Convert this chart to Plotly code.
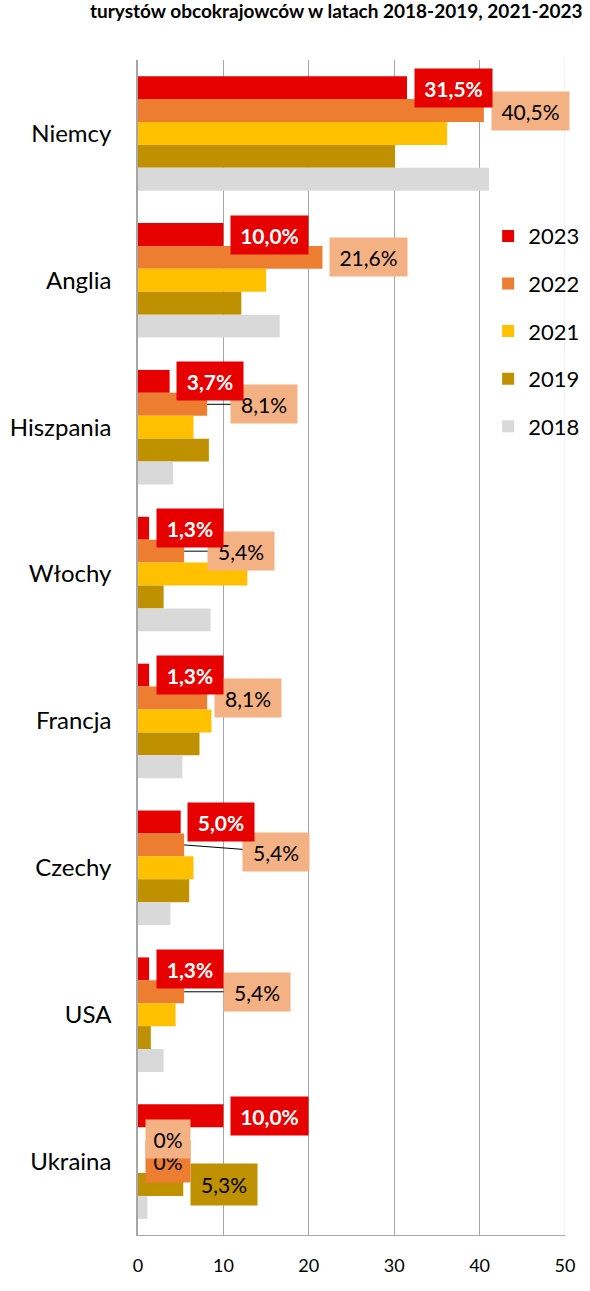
import plotly.graph_objects as go

# ---------------- data ----------------
categories = ["Niemcy", "Anglia", "Hiszpania", "Włochy", "Francja", "Czechy", "USA", "Ukraina"]
years = ["2023", "2022", "2021", "2019", "2018"]
v2023 = [31.5, 10.0, 3.7, 1.3, 1.3, 5.0, 1.3, 10.0]
v2022 = [40.5, 21.6, 8.1, 5.4, 8.1, 5.4, 5.4, 0.0]
v2021 = [36.2, 15.0, 6.5, 12.8, 8.6, 6.5, 4.4, 0.0]
v2019 = [30.1, 12.1, 8.3, 3.0, 7.2, 6.0, 1.5, 5.3]
v2018 = [41.1, 16.6, 4.1, 8.5, 5.2, 3.8, 3.0, 1.1]
x_ticks = [0, 10, 20, 30, 40, 50]
title_text = "turystów obcokrajowców w latach 2018-2019, 2021-2023"

# ---------------- styles ----------------
colors = ["#E60000", "#ED7D31", "#FFC000", "#BF9000", "#D9D9D9"]
series = [v2023, v2022, v2021, v2019, v2018]
FONT = "Lato"
GRID = "#A6A6A6"


def fmt(v):
    if v == 0:
        return "0%"
    return f"{v:.1f}".replace(".", ",") + "%"


fig = go.Figure()
for name, vals, col in zip(years, series, colors):
    fig.add_trace(go.Bar(
        y=categories, x=vals, name=name, orientation="h",
        marker=dict(color=col, line=dict(width=0)),
        legendgroup=name, hoverinfo="skip",
    ))

# pixel offsets of each series' bar centre from the category centre (upwards positive)
series_shift = {"2023": 45.8, "2022": 22.9, "2021": 0.0, "2019": -22.9}


def label(cat, value, year, bg, fcolor, bold, gap, dy=0, leader=False, h=38):
    text = fmt(value)
    w = 22 + 11 * len(text)
    fig.add_annotation(
        x=value, y=cat, xref="x", yref="y",
        text=f"<b>{text}</b>" if bold else text,
        showarrow=True, arrowhead=0, arrowwidth=1, standoff=0, startstandoff=0,
        arrowcolor="#000000" if leader else "rgba(0,0,0,0)",
        ax=gap + w / 2, ay=dy,
        yshift=series_shift[year],
        width=w, height=h, bgcolor=bg, borderpad=0,
        font=dict(family=FONT, size=21, color=fcolor),
        align="center", valign="middle",
    )


# 2022 label layout (gap from bar end, vertical offset, leader line)
gap2022 = [8, 7.5, 24, 24, 8, 59, 40, 8]
dy2022 = [0, 0, 0, 0, 0, 7, 0, 0]
lead2022 = [False, False, True, True, False, True, True, False]

# Ukraina extra labels (drawn underneath)
label(categories[7], v2019[7], "2019", "#BF9000", "#000000", False, 7.7, h=41)
label(categories[7], v2021[7], "2021", "#ED7D31", "#000000", False, 8, h=41)

for i, c in enumerate(categories):
    label(c, v2022[i], "2022", "#F4B183", "#000000", False, gap2022[i], dy2022[i], lead2022[i])
for i, c in enumerate(categories):
    label(c, v2023[i], "2023", "#E60000", "#FFFFFF", True, 7.5)

# lighter line at the right end of the value axis
fig.add_shape(type="line", xref="x", yref="paper", x0=50, x1=50, y0=0, y1=1,
              line=dict(color="#E4E4E4", width=1), layer="below")

# title at the very top
fig.add_annotation(
    text=f"<b>{title_text}</b>", xref="paper", yref="paper",
    x=1, y=1, xanchor="right", yanchor="bottom", xshift=20, yshift=36,
    showarrow=False, font=dict(family=FONT, size=19, color="#000000"),
)

fig.update_layout(
    width=590, height=1291,
    margin=dict(l=138, r=25, t=60, b=56, autoexpand=False),
    paper_bgcolor="white", plot_bgcolor="white",
    barmode="group", bargap=0.22, bargroupgap=0,
    font=dict(family=FONT, color="#000000"),
    legend=dict(
        x=0.82, y=0.868, xanchor="left", yanchor="top",
        font=dict(family=FONT, size=22, color="#000000"),
        tracegroupgap=16, bgcolor="rgba(0,0,0,0)",
    ),
    xaxis=dict(
        range=[0, 50], tickvals=x_ticks, ticktext=[str(t) for t in x_ticks],
        showgrid=True, gridcolor=GRID, gridwidth=1,
        showline=True, linecolor=GRID, linewidth=1,
        zeroline=False, ticks="", ticklabelstandoff=14, automargin=False,
        tickfont=dict(family=FONT, size=18, color="#000000"),
        fixedrange=True,
    ),
    yaxis=dict(
        autorange="reversed", type="category",
        showgrid=False, showline=True, linecolor=GRID, linewidth=1.5,
        ticks="", ticklabelstandoff=20, automargin=False,
        tickfont=dict(family=FONT, size=24, color="#000000"),
        fixedrange=True,
    ),
)

fig.write_html(
    "out.html",
    config={"displayModeBar": False},
    post_script="document.body.style.margin='0px';document.body.style.padding='0px';",
)
